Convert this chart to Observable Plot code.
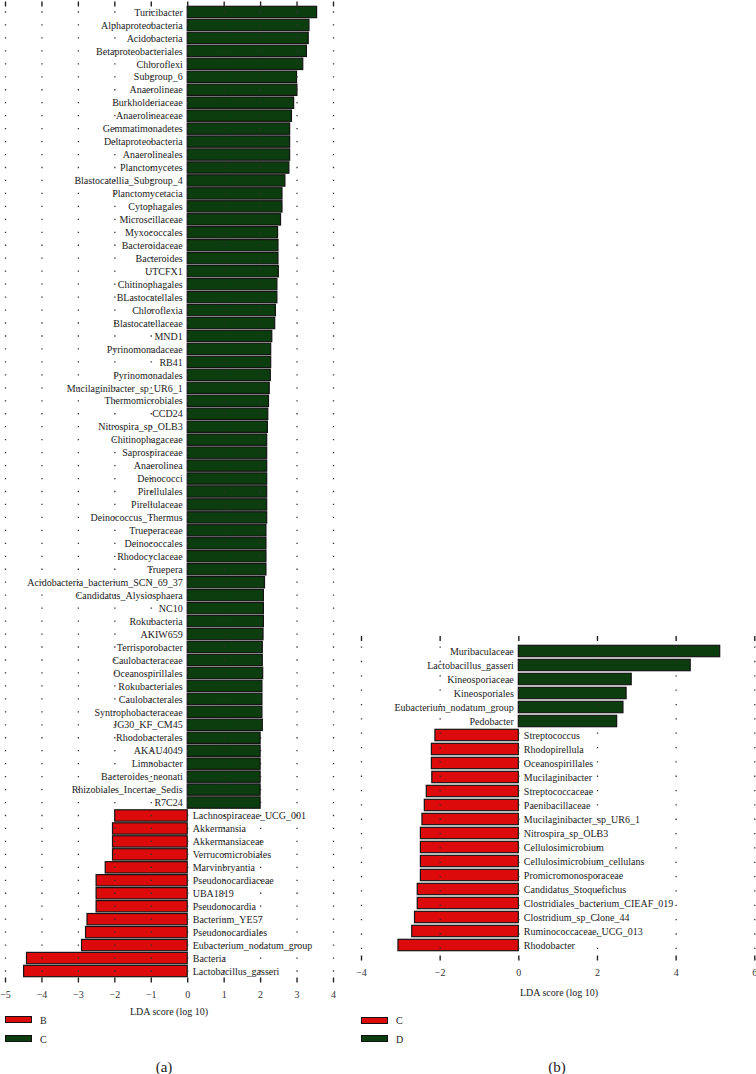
<!DOCTYPE html>
<html><head><meta charset="utf-8">
<script src="https://cdn.jsdelivr.net/npm/d3@7"></script>
<script src="https://cdn.jsdelivr.net/npm/@observablehq/plot@0.6"></script>
<style>
body{margin:0;background:#fff;}
#wrap{position:relative;width:756px;height:1074px;overflow:hidden;font-family:"Liberation Serif",serif;color:#222;}
.abs{position:absolute;white-space:nowrap;}
.lab{font-size:10px;transform:translate(-50%,-50%);}
.leg{font-size:10px;transform:translateY(-50%);}
.box{position:absolute;box-sizing:border-box;width:27px;height:7px;border:1.3px solid #111;}
.panel{font-size:15px;transform:translate(-50%,-50%);}
</style></head><body><div id="wrap"></div>
<script>
// ---------- Panel (a): B vs C ----------
const aGreenNames = ["Turicibacter","Alphaproteobacteria","Acidobacteria","Betaproteobacteriales","Chloroflexi","Subgroup_6","Anaerolineae","Burkholderiaceae","Anaerolineaceae","Gemmatimonadetes","Deltaproteobacteria","Anaerolineales","Planctomycetes","Blastocatellia_Subgroup_4","Planctomycetacia","Cytophagales","Microscillaceae","Myxococcales","Bacteroidaceae","Bacteroides","UTCFX1","Chitinophagales","BLastocatellales","Chloroflexia","Blastocatellaceae","MND1","Pyrinomonadaceae","RB41","Pyrinomonadales","Mucilaginibacter_sp_UR6_1","Thermomicrobiales","CCD24","Nitrospira_sp_OLB3","Chitinophagaceae","Saprospiraceae","Anaerolinea","Deinococci","Pirellulales","Pirellulaceae","Deinococcus_Thermus","Trueperaceae","Deinococcales","Rhodocyclaceae","Truepera","Acidobacteria_bacterium_SCN_69_37","Candidatus_Alysiosphaera","NC10","Rokubacteria","AKIW659","Terrisporobacter","Caulobacteraceae","Oceanospirillales","Rokubacteriales","Caulobacterales","Syntrophobacteraceae","JG30_KF_CM45","Rhodobacterales","AKAU4049","Limnobacter","Bacteroides_neonati","Rhizobiales_Incertae_Sedis","R7C24"];
const aGreenValues = [3.55,3.34,3.32,3.27,3.17,3.00,3.01,2.92,2.86,2.81,2.81,2.81,2.79,2.68,2.60,2.60,2.56,2.48,2.49,2.49,2.50,2.46,2.46,2.42,2.40,2.32,2.29,2.29,2.28,2.25,2.23,2.21,2.20,2.18,2.18,2.18,2.18,2.18,2.18,2.18,2.16,2.16,2.16,2.16,2.12,2.09,2.09,2.09,2.08,2.06,2.06,2.07,2.05,2.05,2.05,2.06,2.00,2.00,2.00,2.00,2.00,2.00];
const aRedNames = ["Lachnospiraceae_UCG_001","Akkermansia","Akkermansiaceae","Verrucomicrobiales","Marvinbryantia","Pseudonocardiaceae","UBA1819","Pseudonocardia","Bacterium_YE57","Pseudonocardiales","Eubacterium_nodatum_group","Bacteria","Lactobacillus_gasseri"];
const aRedValues = [-1.99,-2.05,-2.05,-2.05,-2.25,-2.50,-2.50,-2.50,-2.75,-2.79,-2.90,-4.41,-4.49];
const aTicks = [-5,-4,-3,-2,-1,0,1,2,3,4];
const aLegend = ["B","C"];

// ---------- Panel (b): C vs D ----------
const bGreenNames = ["Muribaculaceae","Lactobacillus_gasseri","Kineosporiaceae","Kineosporiales","Eubacterium_nodatum_group","Pedobacter"];
const bGreenValues = [5.12,4.37,2.87,2.74,2.66,2.50];
const bRedNames = ["Streptococcus","Rhodopirellula","Oceanospirillales","Mucilaginibacter","Streptococcaceae","Paenibacillaceae","Mucilaginibacter_sp_UR6_1","Nitrospira_sp_OLB3","Cellulosimicrobium","Cellulosimicrobium_cellulans","Promicromonosporaceae","Candidatus_Stoquefichus","Clostridiales_bacterium_CIEAF_019","Clostridium_sp_Clone_44","Ruminococcaceae_UCG_013","Rhodobacter"];
const bRedValues = [-2.12,-2.21,-2.21,-2.20,-2.34,-2.39,-2.45,-2.49,-2.49,-2.49,-2.49,-2.57,-2.57,-2.64,-2.71,-3.06];
const bTicks = [-4,-2,0,2,4,6];
const bLegend = ["C","D"];

const GREEN = "#0b3d0e", RED = "#dc0a0a";
const axisTitle = "LDA score (log 10)";

function chart(o) {
  const green = o.gn.map((n,i)=>({name:n, v:o.gv[i]}));
  const red = o.rn.map((n,i)=>({name:n, v:o.rv[i]}));
  const names = o.gn.concat(o.rn);
  const range = o.height - o.mt - o.mb;
  const step = range / names.length;
  const dash = 1.3;
  const offset = step - (step/2 - dash/2);
  return Plot.plot({
    width: o.width, height: o.height,
    marginTop: o.mt, marginBottom: o.mb, marginLeft: o.ml, marginRight: o.mr,
    style: {fontFamily: "Liberation Serif", fontSize: "10px", color: "#222", background: "transparent", overflow: "visible"},
    x: {domain: o.domain},
    y: {domain: names, padding: 0, axis: null},
    marks: [
      Plot.barX(green, {x: "v", y: "name", fill: GREEN, stroke: "#141414", strokeWidth: 1.2, insetTop: o.inset, insetBottom: o.inset}),
      Plot.barX(red, {x: "v", y: "name", fill: RED, stroke: "#141414", strokeWidth: 1.2, insetTop: o.inset, insetBottom: o.inset}),
      Plot.gridX({ticks: o.ticks, stroke: "#333", strokeOpacity: 1, strokeWidth: 1.3, strokeDasharray: `${dash},${step - dash}`, strokeDashoffset: offset}),
      Plot.text(green, {x: 0, y: "name", text: "name", textAnchor: "end", dx: -5, fill: "#222", fontSize: 10}),
      Plot.text(red, {x: 0, y: "name", text: "name", textAnchor: "start", dx: 5, fill: "#222", fontSize: 10}),
      Plot.axisX({anchor: "bottom", ticks: o.ticks, tickSize: 5, tickPadding: 8, strokeWidth: 1.4, stroke: "#222", fill: "#333", label: null, fontSize: 10}),
      Plot.axisX({anchor: "top", ticks: o.ticks, tickSize: 5, tickFormat: () => "", strokeWidth: 1.4, stroke: "#222", label: null})
    ]
  });
}

const wrap = document.getElementById("wrap");
function place(el, left, top) { el.style.position = "absolute"; el.style.left = left + "px"; el.style.top = top + "px"; wrap.appendChild(el); return el; }
function text(cls, s, left, top) { const d = document.createElement("div"); d.className = "abs " + cls; d.textContent = s; return place(d, left, top); }
function box(color, left, top) { const d = document.createElement("div"); d.className = "box"; d.style.background = color; return place(d, left, top); }

// Panel (a)
place(chart({gn: aGreenNames, gv: aGreenValues, rn: aRedNames, rv: aRedValues, ticks: aTicks, domain: [-5, 4],
  width: 339, height: 1000, mt: 5.5, mb: 22.5, ml: 5, mr: 6, inset: 0.8}), 0, 0);
text("lab", axisTitle, 169, 1011);
box(RED, 5, 1016); text("leg", aLegend[0], 40, 1019.5);
box(GREEN, 5, 1035); text("leg", aLegend[1], 40, 1038.5);
text("panel", "(a)", 164, 1067);

// Panel (b)
place(chart({gn: bGreenNames, gv: bGreenValues, rn: bRedNames, rv: bRedValues, ticks: bTicks, domain: [-4, 6],
  width: 401, height: 380, mt: 40, mb: 24.5, ml: 6, mr: 1.7, inset: 1.3}), 355, 600);
text("lab", axisTitle, 559, 992);
box(RED, 361, 1016.5); text("leg", bLegend[0], 396, 1019.5);
box(GREEN, 361, 1035); text("leg", bLegend[1], 396, 1038.5);
text("panel", "(b)", 557, 1067);
</script></body></html>
